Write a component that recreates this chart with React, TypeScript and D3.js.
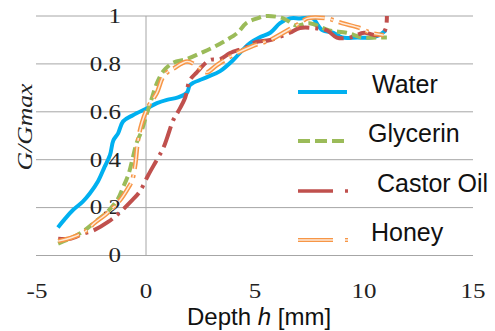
import React from "react";
import * as d3 from "d3";

// readings: [depth mm, G/Gmax]
const water: [number, number][] = [
  [-4.04, 0.117], [-3.7, 0.155], [-3.35, 0.19], [-2.9, 0.225], [-2.57, 0.26], [-2.2, 0.31],
  [-1.9, 0.37], [-1.65, 0.42], [-1.5, 0.48], [-1.28, 0.51], [-1.05, 0.56], [-0.6, 0.586],
  [0.05, 0.615], [0.5, 0.636], [0.96, 0.65], [1.47, 0.66], [1.88, 0.68], [2.0, 0.71],
  [2.15, 0.72], [2.8, 0.745], [3.4, 0.77], [4.0, 0.816], [4.45, 0.86], [4.77, 0.887],
  [5.2, 0.91], [5.7, 0.93], [6.15, 0.97], [6.6, 0.99], [7.06, 0.99], [7.66, 0.99],
  [7.9, 0.96], [8.1, 0.94], [8.6, 0.93], [9.0, 0.91], [9.7, 0.91], [10.3, 0.91],
  [10.7, 0.92], [11.0, 0.94],
];

const glycerin: [number, number][] = [
  [-4.03, 0.05], [-3.5, 0.07], [-2.9, 0.1], [-2.34, 0.14], [-1.8, 0.18], [-1.33, 0.23],
  [-1.05, 0.285], [-0.8, 0.34], [-0.6, 0.41], [-0.43, 0.47], [-0.2, 0.52], [0.03, 0.59],
  [0.28, 0.66], [0.5, 0.72], [0.8, 0.77], [1.25, 0.805], [1.87, 0.82], [2.5, 0.845],
  [3.1, 0.87], [3.7, 0.9], [4.2, 0.93], [4.6, 0.97], [5.1, 0.99], [5.5, 1.0], [6.3, 0.99],
  [6.9, 0.96], [7.5, 0.97], [8.4, 0.94], [9.2, 0.93], [9.95, 0.91], [10.6, 0.91], [11.05, 0.91],
];

const castorOil: [number, number][] = [
  [-4.03, 0.07], [-3.5, 0.07], [-2.9, 0.09], [-2.4, 0.105], [-1.74, 0.14], [-1.2, 0.18],
  [-0.7, 0.225], [-0.3, 0.265], [0.1, 0.335], [0.5, 0.4], [0.8, 0.45], [1.0, 0.5],
  [1.25, 0.565], [1.47, 0.6], [1.8, 0.66], [2.0, 0.73], [2.33, 0.765], [2.93, 0.816],
  [3.4, 0.82], [3.85, 0.845], [4.6, 0.87], [5.0, 0.89], [5.7, 0.9], [6.6, 0.93],
  [7.06, 0.95], [7.66, 0.95], [8.3, 0.94], [8.75, 0.91], [9.36, 0.91], [10.0, 0.93],
  [10.6, 0.92], [10.96, 0.94], [11.05, 1.0],
];

const honey: [number, number][] = [
  [-4.03, 0.06], [-3.35, 0.077], [-2.7, 0.105], [-2.4, 0.133], [-1.8, 0.175], [-1.2, 0.23],
  [-0.8, 0.285], [-0.65, 0.31], [-0.5, 0.375], [-0.37, 0.48], [-0.18, 0.556], [0.09, 0.62],
  [0.5, 0.68], [0.78, 0.745], [1.1, 0.774], [1.25, 0.78], [1.9, 0.81], [2.6, 0.774],
  [2.8, 0.765], [3.25, 0.795], [4.0, 0.837], [4.9, 0.875], [5.7, 0.9], [6.3, 0.93],
  [7.06, 0.97], [7.4, 0.99], [8.3, 0.99], [9.0, 0.97], [9.8, 0.95], [10.3, 0.93], [10.9, 0.92],
];

const xTicks = [-5, 0, 5, 10, 15];
const yTicks = [0, 0.2, 0.4, 0.6, 0.8, 1];
const legendNames = ["Water", "Glycerin", "Castor Oil", "Honey"];

const width = 495;
const height = 331;

const x = d3.scaleLinear().domain([-5, 15]).range([37, 473]);
const y = d3.scaleLinear().domain([0, 1]).range([255.5, 16]);

const line = d3
  .line<[number, number]>()
  .x((d) => x(d[0]))
  .y((d) => y(d[1]))
  .curve(d3.curveCatmullRom.alpha(0.5));

const BLUE = "#00B0F0";
const GREEN = "#9BBB59";
const RED = "#C0504D";
const ORANGE = "#F79646";

const serif = "'Liberation Serif', 'Times New Roman', serif";
const sans = "'Liberation Sans', Arial, sans-serif";

export default function App() {
  const legendY = [92, 141, 191, 240];
  const legendTextX = [372, 368, 377, 371];

  return (
    <div style={{ position: "absolute", left: 0, top: 0 }}>
      <svg width={width} height={height} style={{ display: "block", background: "#fff" }}>
        {/* grid */}
        {yTicks.map((t) => (
          <line key={t} x1={x(-5) - 1} x2={x(15)} y1={y(t)} y2={y(t)} stroke="#a6a6a6" strokeWidth={1} />
        ))}
        <line x1={x(0)} x2={x(0)} y1={y(1)} y2={y(0)} stroke="#a6a6a6" strokeWidth={1} />

        {/* y tick labels */}
        {yTicks.map((t) => (
          <g key={t} transform={`translate(121,${y(t)}) scale(1.25,1)`}>
            <text textAnchor="end" dy="0.34em" fontFamily={serif} fontSize={20} fill="#222">
              {t === 0 || t === 1 ? String(t) : t.toFixed(1)}
            </text>
          </g>
        ))}

        {/* x tick labels */}
        {xTicks.map((t) => (
          <g key={t} transform={`translate(${x(t)},298) scale(1.25,1)`}>
            <text textAnchor="middle" fontFamily={serif} fontSize={20} fill="#222">
              {String(t)}
            </text>
          </g>
        ))}

        {/* series */}
        <path d={line(water) || ""} fill="none" stroke={BLUE} strokeWidth={4} strokeLinejoin="round" />
        <path d={line(glycerin) || ""} fill="none" stroke={GREEN} strokeWidth={4} strokeDasharray="10 5" />
        <path d={line(castorOil) || ""} fill="none" stroke={RED} strokeWidth={4} strokeDasharray="22 6 3 6" />
        <path d={line(honey) || ""} fill="none" stroke={ORANGE} strokeWidth={4.5} strokeDasharray="22 6 3 6" />
        <path d={line(honey) || ""} fill="none" stroke="#FDE9D9" strokeWidth={1.5} strokeDasharray="22 6 3 6" />

        {/* legend */}
        <line x1={298} x2={347} y1={legendY[0]} y2={legendY[0]} stroke={BLUE} strokeWidth={4} />
        <line x1={298} x2={347} y1={legendY[1]} y2={legendY[1]} stroke={GREEN} strokeWidth={4} strokeDasharray="12 5" />
        <line x1={298} x2={349} y1={legendY[2]} y2={legendY[2]} stroke={RED} strokeWidth={3.5} strokeDasharray="35 12 3 100" />
        <line x1={298} x2={349} y1={legendY[3]} y2={legendY[3]} stroke={ORANGE} strokeWidth={4} strokeDasharray="35 12 3 100" />
        <line x1={298} x2={349} y1={legendY[3]} y2={legendY[3]} stroke="#FDE9D9" strokeWidth={1.5} strokeDasharray="35 12 3 100" />
        {legendNames.map((n, i) => (
          <text key={n} x={legendTextX[i]} y={legendY[i] + 1} fontFamily={sans} fontSize={25} fill="#111">
            {n}
          </text>
        ))}

        {/* axis titles */}
        <text x={187} y={325} fontFamily={sans} fontSize={24} fill="#111">
          Depth <tspan fontStyle="italic">h</tspan> [mm]
        </text>
        <text
          transform="translate(32,127) rotate(-90)"
          textAnchor="middle"
          fontFamily={serif}
          fontStyle="italic"
          fontSize={22}
          textLength={87}
          lengthAdjust="spacingAndGlyphs"
          fill="#222"
        >
          G/Gmax
        </text>
      </svg>
    </div>
  );
}
